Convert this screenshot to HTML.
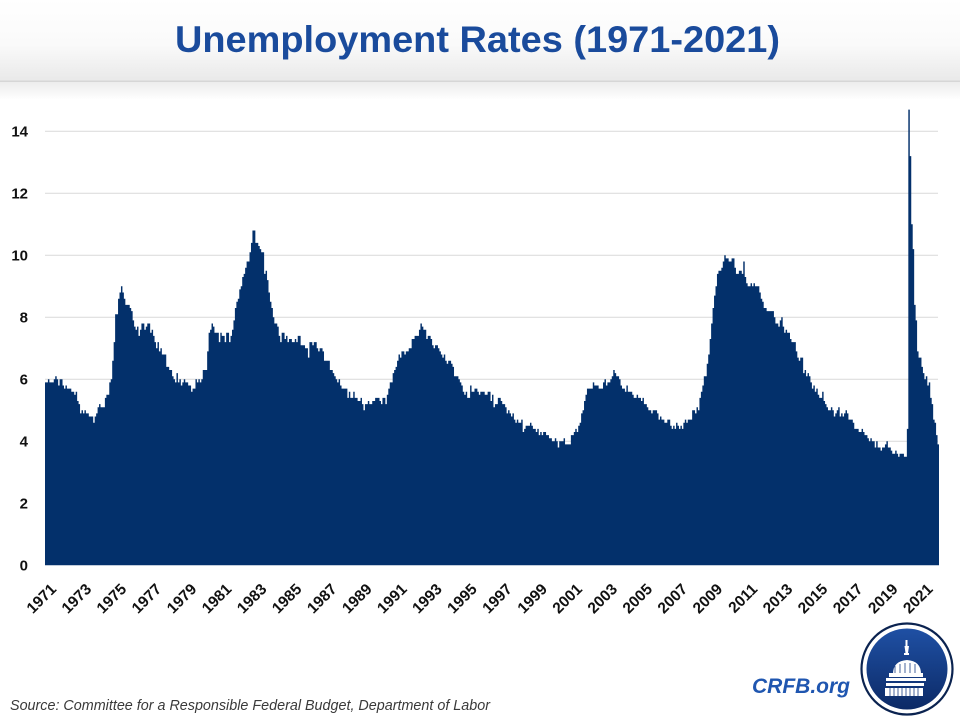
<!DOCTYPE html>
<html>
<head>
<meta charset="utf-8">
<style>
html,body{margin:0;padding:0;background:#fff;}
body{width:960px;height:720px;overflow:hidden;}
svg{display:block;}
</style>
</head>
<body>
<svg width="960" height="720" viewBox="0 0 960 720" xmlns="http://www.w3.org/2000/svg">
<defs>
<linearGradient id="hdr" x1="0" y1="0" x2="0" y2="1">
<stop offset="0" stop-color="#ffffff"/>
<stop offset="0.55" stop-color="#fafafa"/>
<stop offset="1" stop-color="#e9e9e9"/>
</linearGradient>
<linearGradient id="shd" x1="0" y1="0" x2="0" y2="1">
<stop offset="0" stop-color="#ececec"/>
<stop offset="1" stop-color="#ffffff"/>
</linearGradient>
<linearGradient id="logo" x1="0" y1="0" x2="0" y2="1">
<stop offset="0" stop-color="#1f50a4"/>
<stop offset="1" stop-color="#0c2a66"/>
</linearGradient>
</defs>
<rect x="0" y="0" width="960" height="81" fill="url(#hdr)"/>
<rect x="0" y="80.5" width="960" height="1.5" fill="#d6d6d6"/>
<rect x="0" y="82" width="960" height="18" fill="url(#shd)"/>
<text x="175" y="52" font-family="Liberation Sans, sans-serif" font-weight="bold" font-size="37" fill="#1a4b9c" textLength="605" lengthAdjust="spacingAndGlyphs">Unemployment Rates (1971-2021)</text>

<g stroke="#d9d9d9" stroke-width="1">
<line x1="45" y1="131.3" x2="938" y2="131.3"/>
<line x1="45" y1="193.3" x2="938" y2="193.3"/>
<line x1="45" y1="255.3" x2="938" y2="255.3"/>
<line x1="45" y1="317.3" x2="938" y2="317.3"/>
<line x1="45" y1="379.3" x2="938" y2="379.3"/>
<line x1="45" y1="441.3" x2="938" y2="441.3"/>
<line x1="45" y1="503.3" x2="938" y2="503.3"/>
</g>
<path id="bars" fill="#03306b" d=""/>

<g font-family="Liberation Sans, sans-serif" font-weight="bold" font-size="15" fill="#111" text-anchor="end">
<text x="28" y="136.5">14</text>
<text x="28" y="198.5">12</text>
<text x="28" y="260.5">10</text>
<text x="28" y="322.5">8</text>
<text x="28" y="384.5">6</text>
<text x="28" y="446.5">4</text>
<text x="28" y="508.5">2</text>
<text x="28" y="570.5">0</text>
</g>

<g font-family="Liberation Sans, sans-serif" font-weight="bold" font-size="15.5" fill="#111" text-anchor="end">
<text transform="translate(57.2,590) rotate(-45)">1971</text>
<text transform="translate(92.3,590) rotate(-45)">1973</text>
<text transform="translate(127.3,590) rotate(-45)">1975</text>
<text transform="translate(162.4,590) rotate(-45)">1977</text>
<text transform="translate(197.5,590) rotate(-45)">1979</text>
<text transform="translate(232.5,590) rotate(-45)">1981</text>
<text transform="translate(267.6,590) rotate(-45)">1983</text>
<text transform="translate(302.6,590) rotate(-45)">1985</text>
<text transform="translate(337.7,590) rotate(-45)">1987</text>
<text transform="translate(372.8,590) rotate(-45)">1989</text>
<text transform="translate(407.8,590) rotate(-45)">1991</text>
<text transform="translate(442.9,590) rotate(-45)">1993</text>
<text transform="translate(477.9,590) rotate(-45)">1995</text>
<text transform="translate(513.0,590) rotate(-45)">1997</text>
<text transform="translate(548.1,590) rotate(-45)">1999</text>
<text transform="translate(583.1,590) rotate(-45)">2001</text>
<text transform="translate(618.2,590) rotate(-45)">2003</text>
<text transform="translate(653.2,590) rotate(-45)">2005</text>
<text transform="translate(688.3,590) rotate(-45)">2007</text>
<text transform="translate(723.4,590) rotate(-45)">2009</text>
<text transform="translate(758.4,590) rotate(-45)">2011</text>
<text transform="translate(793.5,590) rotate(-45)">2013</text>
<text transform="translate(828.5,590) rotate(-45)">2015</text>
<text transform="translate(863.6,590) rotate(-45)">2017</text>
<text transform="translate(898.7,590) rotate(-45)">2019</text>
<text transform="translate(933.7,590) rotate(-45)">2021</text>
</g>

<text x="10" y="710" font-family="Liberation Sans, sans-serif" font-style="italic" font-size="15" fill="#3a3a3a" textLength="480" lengthAdjust="spacingAndGlyphs">Source: Committee for a Responsible Federal Budget, Department of Labor</text>

<text x="752" y="693" font-family="Liberation Sans, sans-serif" font-style="italic" font-weight="bold" font-size="21" fill="#1f56b0" textLength="98" lengthAdjust="spacingAndGlyphs">CRFB.org</text>

<circle cx="907" cy="669" r="45.5" fill="#ffffff" stroke="#0b2350" stroke-width="2.2"/>
<circle cx="907" cy="669" r="40.5" fill="url(#logo)"/>
<g fill="#ffffff">
<rect x="905.5" y="640" width="2" height="6"/>
<path d="M904.5 646 L909 646 L908 653 L905.5 653 Z"/>
<rect x="904" y="653" width="5" height="2"/>
<path d="M893 674 Q893 661 907 660 Q921 661 921 674 Z"/>
<rect x="889" y="673" width="34" height="4"/>
<rect x="886" y="678" width="40" height="3"/>
<rect x="886" y="683" width="38" height="3"/>
<rect x="885" y="688" width="38" height="8"/>
</g>
<g stroke="#1a3f85" stroke-width="0.8">
<line x1="890" y1="688" x2="890" y2="696"/>
<line x1="894" y1="688" x2="894" y2="696"/>
<line x1="898" y1="688" x2="898" y2="696"/>
<line x1="902" y1="688" x2="902" y2="696"/>
<line x1="906" y1="688" x2="906" y2="696"/>
<line x1="910" y1="688" x2="910" y2="696"/>
<line x1="914" y1="688" x2="914" y2="696"/>
<line x1="918" y1="688" x2="918" y2="696"/>
<line x1="895" y1="666" x2="895" y2="673"/>
<line x1="900" y1="664" x2="900" y2="673"/>
<line x1="905" y1="663" x2="905" y2="673"/>
<line x1="910" y1="663" x2="910" y2="673"/>
<line x1="915" y1="664" x2="915" y2="673"/>
</g>
</svg>
<script>
(function(){
var d=[
5.9,5.9,6.0,5.9,5.9,5.9,6.0,6.1,6.0,5.8,6.0,6.0,
5.8,5.7,5.8,5.7,5.7,5.7,5.6,5.6,5.5,5.6,5.3,5.2,
4.9,5.0,4.9,5.0,4.9,4.9,4.8,4.8,4.8,4.6,4.8,4.9,
5.1,5.2,5.1,5.1,5.1,5.4,5.5,5.5,5.9,6.0,6.6,7.2,
8.1,8.1,8.6,8.8,9.0,8.8,8.6,8.4,8.4,8.4,8.3,8.2,
7.9,7.7,7.6,7.7,7.4,7.6,7.8,7.8,7.6,7.7,7.8,7.8,
7.5,7.6,7.4,7.2,7.0,7.2,6.9,7.0,6.8,6.8,6.8,6.4,
6.4,6.3,6.3,6.1,6.0,5.9,6.2,5.9,6.0,5.8,5.9,6.0,
5.9,5.9,5.8,5.8,5.6,5.7,5.7,6.0,5.9,6.0,5.9,6.0,
6.3,6.3,6.3,6.9,7.5,7.6,7.8,7.7,7.5,7.5,7.5,7.2,
7.5,7.4,7.4,7.2,7.5,7.5,7.2,7.4,7.6,7.9,8.3,8.5,
8.6,8.9,9.0,9.3,9.4,9.6,9.8,9.8,10.1,10.4,10.8,10.8,
10.4,10.4,10.3,10.2,10.1,10.1,9.4,9.5,9.2,8.8,8.5,8.3,
8.0,7.8,7.8,7.7,7.4,7.2,7.5,7.5,7.3,7.4,7.2,7.3,
7.3,7.2,7.2,7.3,7.2,7.4,7.4,7.1,7.1,7.1,7.0,7.0,
6.7,7.2,7.2,7.1,7.2,7.2,7.0,6.9,7.0,7.0,6.9,6.6,
6.6,6.6,6.6,6.3,6.3,6.2,6.1,6.0,5.9,6.0,5.8,5.7,
5.7,5.7,5.7,5.4,5.6,5.4,5.4,5.6,5.4,5.4,5.3,5.3,
5.4,5.2,5.0,5.2,5.2,5.3,5.2,5.2,5.3,5.3,5.4,5.4,
5.4,5.3,5.2,5.4,5.4,5.2,5.5,5.7,5.9,5.9,6.2,6.3,
6.4,6.6,6.8,6.7,6.9,6.9,6.8,6.9,6.9,7.0,7.0,7.3,
7.3,7.4,7.4,7.4,7.6,7.8,7.7,7.6,7.6,7.3,7.4,7.4,
7.3,7.1,7.0,7.1,7.1,7.0,6.9,6.8,6.7,6.8,6.6,6.5,
6.6,6.6,6.5,6.4,6.1,6.1,6.1,6.0,5.9,5.8,5.6,5.5,
5.6,5.4,5.4,5.8,5.6,5.6,5.7,5.7,5.6,5.5,5.6,5.6,
5.6,5.5,5.5,5.6,5.6,5.3,5.5,5.1,5.2,5.2,5.4,5.4,
5.3,5.2,5.2,5.1,4.9,5.0,4.9,4.8,4.9,4.7,4.6,4.7,
4.6,4.6,4.7,4.3,4.4,4.5,4.5,4.5,4.6,4.5,4.4,4.4,
4.3,4.4,4.2,4.3,4.2,4.3,4.3,4.2,4.2,4.1,4.1,4.0,
4.0,4.1,4.0,3.8,4.0,4.0,4.0,4.1,3.9,3.9,3.9,3.9,
4.2,4.2,4.3,4.4,4.3,4.5,4.6,4.9,5.0,5.3,5.5,5.7,
5.7,5.7,5.7,5.9,5.8,5.8,5.8,5.7,5.7,5.7,5.9,6.0,
5.8,5.9,5.9,6.0,6.1,6.3,6.2,6.1,6.1,6.0,5.8,5.7,
5.7,5.6,5.8,5.6,5.6,5.6,5.5,5.4,5.4,5.5,5.4,5.4,
5.3,5.4,5.2,5.2,5.1,5.0,5.0,4.9,5.0,5.0,5.0,4.9,
4.7,4.8,4.7,4.7,4.6,4.6,4.7,4.7,4.5,4.4,4.5,4.4,
4.6,4.5,4.4,4.5,4.4,4.6,4.7,4.6,4.7,4.7,4.7,5.0,
5.0,4.9,5.1,5.0,5.4,5.6,5.8,6.1,6.1,6.5,6.8,7.3,
7.8,8.3,8.7,9.0,9.4,9.5,9.5,9.6,9.8,10.0,9.9,9.9,
9.8,9.8,9.9,9.9,9.6,9.4,9.4,9.5,9.5,9.4,9.8,9.3,
9.1,9.0,9.0,9.1,9.0,9.1,9.0,9.0,9.0,8.8,8.6,8.5,
8.3,8.3,8.2,8.2,8.2,8.2,8.2,8.0,7.8,7.8,7.7,7.9,
8.0,7.7,7.5,7.6,7.5,7.5,7.3,7.2,7.2,7.2,6.9,6.7,
6.6,6.7,6.7,6.2,6.3,6.1,6.2,6.1,5.9,5.7,5.8,5.6,
5.7,5.5,5.4,5.4,5.6,5.3,5.2,5.1,5.0,5.0,5.1,5.0,
4.8,4.9,5.0,5.1,4.8,4.9,4.8,4.9,5.0,4.9,4.7,4.7,
4.7,4.6,4.4,4.4,4.4,4.3,4.3,4.4,4.3,4.2,4.2,4.1,
4.0,4.1,4.0,4.0,3.8,4.0,3.8,3.8,3.7,3.8,3.8,3.9,
4.0,3.8,3.8,3.7,3.6,3.6,3.7,3.6,3.5,3.6,3.6,3.6,
3.5,3.5,4.4,14.7,13.2,11.0,10.2,8.4,7.9,6.9,6.7,6.7,
6.4,6.2,6.0,6.1,5.8,5.9,5.4,5.2,4.7,4.6,4.2,3.9
];
var x0=45,x1=939,base=565.3,k=31,w=(x1-x0)/d.length;
var p="M"+x0+" "+base;
for(var i=0;i<d.length;i++){
var y=(base-d[i]*k).toFixed(2);
p+=" L"+(x0+i*w).toFixed(2)+" "+y+" L"+(x0+(i+1)*w).toFixed(2)+" "+y;
}
p+=" L"+x1+" "+base+" Z";
document.getElementById("bars").setAttribute("d",p);
})();
</script>
</body>
</html>
